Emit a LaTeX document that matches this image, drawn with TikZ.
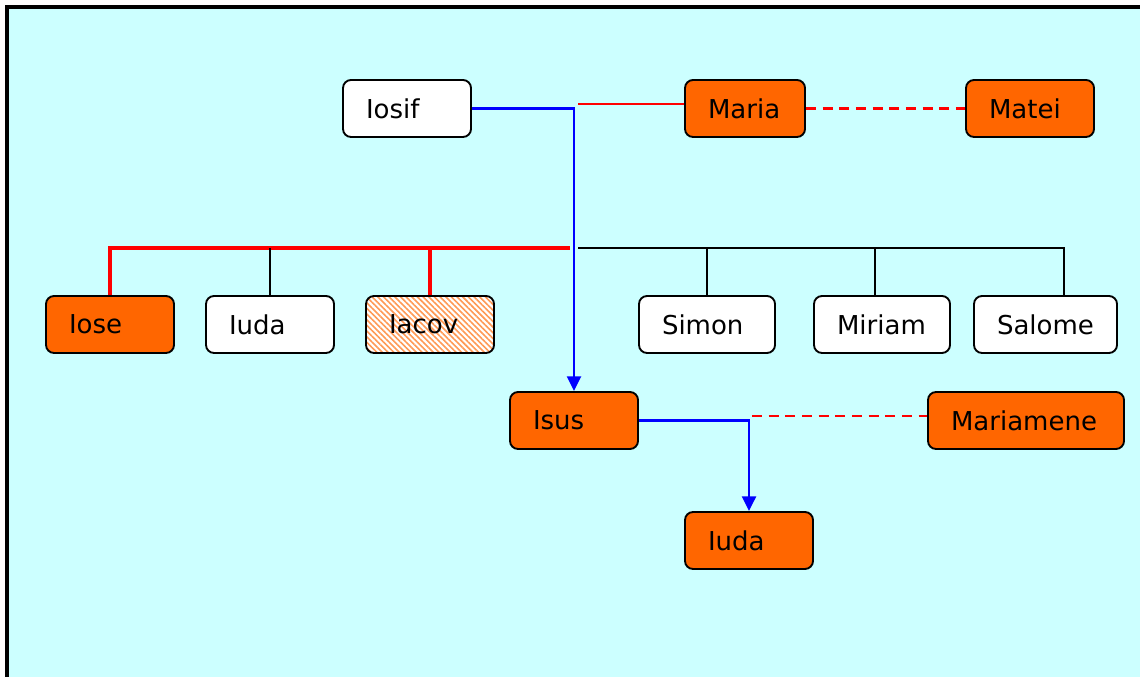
\documentclass[tikz,border=0pt]{standalone}
\usepackage{fontspec}
\setmainfont{DejaVu Sans}
\usetikzlibrary{arrows.meta}
\usetikzlibrary{patterns.meta}
\usetikzlibrary{calc}
\tikzset{>={Triangle[length=11pt, width=10.5pt]}}

\definecolor{bgcyan}{HTML}{CCFFFF}
\definecolor{boxorange}{HTML}{FF6600}
\definecolor{hatchorange}{HTML}{FF9A55}

\tikzset{
	person/.style = {draw, fill = white, rounded corners = 6pt, line width = 1.4pt, minimum height = 42.75pt, inner xsep = 17.25pt, text width = #1, align = left},
	person/.default = 61.5pt,
	kin/.style = {fill = boxorange},
	hatched/.style = {preaction = {fill = white}, pattern = {Lines[angle = -45, distance = 3pt, line width = 1.2pt]}, pattern color = hatchorange},
	spouse/.style = {red, line width = 1.6pt, dash pattern = on 7.5pt off 5pt},
	descent/.style = {->, blue, line width = 1.6pt}
}

\begin{document}
\begin{tikzpicture}[x = 0.75pt, y = -0.75pt, font = {\fontsize{19.5pt}{23pt}\selectfont}]
\useasboundingbox (0,0) rectangle (1140,677);
\fill[bgcyan] (7,7) rectangle (1146,683);
\draw[line width = 2.4pt] (7,683) -- (7,7) -- (1146,7);

% parents
\node[person] (Iosif) at (407, 108.5) {Iosif};
\node[person = 55.5pt, kin] (Maria) at (745, 108.5) {Maria};
\node[person, kin] (Matei) at (1030, 108.5) {Matei};

% siblings
\node[person, kin] (Iose) at (110, 324.5) {Iose};
\node[person] (Iuda) at (270, 324.5) {Iuda};
\node[person, hatched] (Iacov) at (430, 324.5) {Iacov};
\node[person = 67.5pt] (Simon) at (707, 324.5) {Simon};
\node[person = 67.5pt] (Miriam) at (882, 324.5) {Miriam};
\node[person = 72.75pt] (Salome) at (1045.5, 324.5) {Salome};

\node[person, kin] (Isus) at (574, 420.5) {Isus};
\node[person = 112.5pt, kin] (Mariamene) at (1026, 420.5) {Mariamene};
\node[person, kin] (IudaSon) at (749, 540.5) {Iuda};

\coordinate (RedEnd) at (570, 248);
\coordinate (BlackStart) at (578, 248);
\coordinate (MariaStart) at (578, 104);
\coordinate (WifeStart) at (752, 416);
\coordinate (MiriamTop) at ($(Miriam.north)+(-7,0)$);
\coordinate (SalomeTop) at ($(Salome.north)+(18.5,0)$);

\draw[red, line width = 3pt] (Iose.north) |- (RedEnd);
\draw[red, line width = 3pt] (Iacov.north) -- (Iacov.north |- RedEnd);
\draw[line width = 1.2pt] (Iuda.north) -- (Iuda.north |- RedEnd);

\draw[line width = 1.2pt] (BlackStart) -| (SalomeTop);
\draw[line width = 1.2pt] (Simon.north) -- (Simon.north |- BlackStart);
\draw[line width = 1.2pt] (MiriamTop) -- (MiriamTop |- BlackStart);

\draw[red, line width = 1.6pt] (MariaStart) -- (MariaStart -| Maria.west);
\draw[spouse] (Maria.east) -- (Matei.west);
\draw[descent] (Iosif.east) -| (Isus.north);

\draw[spouse] (WifeStart) -- (WifeStart -| Mariamene.west);
\draw[descent] (Isus.east) -| (IudaSon.north);
\end{tikzpicture}
\end{document}
